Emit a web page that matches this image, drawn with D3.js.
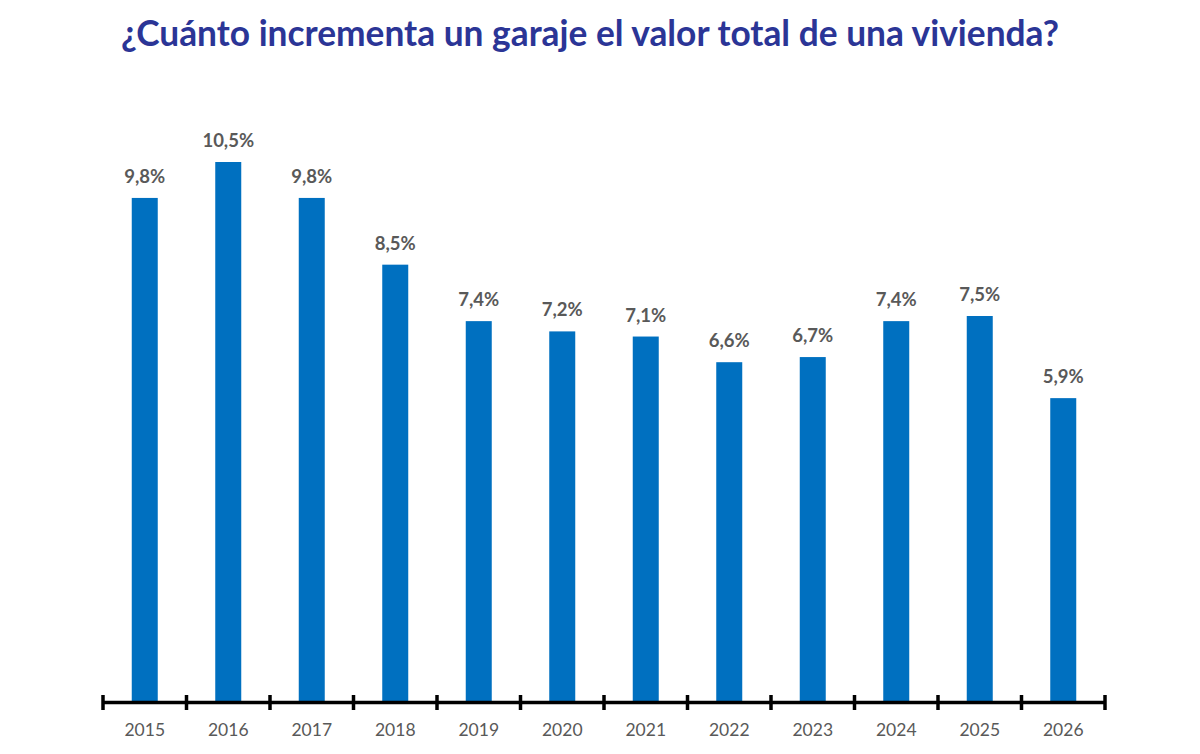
<!DOCTYPE html>
<html><head><meta charset="utf-8">
<script src="https://cdn.jsdelivr.net/npm/d3@7"></script>
<style>body{margin:0;background:#fff}svg{display:block}</style>
</head><body>
<svg id="c" width="1200" height="754"></svg>
<script>
const title = "¿Cuánto incrementa un garaje el valor total de una vivienda?";
const years = ["2015","2016","2017","2018","2019","2020","2021","2022","2023","2024","2025","2026"];
const values = [9.8,10.5,9.8,8.5,7.4,7.2,7.1,6.6,6.7,7.4,7.5,5.9];
const valueLabels = ["9,8%","10,5%","9,8%","8,5%","7,4%","7,2%","7,1%","6,6%","6,7%","7,4%","7,5%","5,9%"];

const svg = d3.select("#c");
const xb = d3.scaleBand().domain(years).range([103,1105]);
const y = d3.scaleLinear().domain([0,10.5]).range([701,162]);

const t = svg.append("text").attr("x",590).attr("y",46).attr("text-anchor","middle")
  .attr("font-family","Lato, 'Open Sans', sans-serif").attr("font-weight","bold")
  .attr("font-size",30).attr("fill","#2B3596").text(title);
const w = t.node().getComputedTextLength();
t.attr("font-size", 30*938/w);

svg.selectAll("rect.bar").data(values).join("rect").attr("class","bar")
  .attr("x",(d,i)=>xb(years[i]) + xb.bandwidth()/2 - 13)
  .attr("width",26)
  .attr("y",d=>y(d)).attr("height",d=>y(0)-y(d))
  .attr("fill","#0070C0");

svg.selectAll("text.val").data(values).join("text").attr("class","val")
  .attr("x",(d,i)=>xb(years[i]) + xb.bandwidth()/2)
  .attr("y",d=>y(d)-15)
  .attr("text-anchor","middle").attr("font-family","Lato, 'Open Sans', sans-serif")
  .attr("font-weight","bold").attr("font-size",18.5).attr("fill","#595959")
  .text((d,i)=>valueLabels[i]);

const ax = svg.append("g");
ax.append("line").attr("x1",103).attr("x2",1105).attr("y1",702.5).attr("y2",702.5)
  .attr("stroke","#000").attr("stroke-width",3.5);
const tickPos = years.map(d=>xb(d)).concat([xb(years[years.length-1])+xb.bandwidth()]);
ax.selectAll("line.tk").data(tickPos).join("line").attr("class","tk")
  .attr("x1",d=>d).attr("x2",d=>d).attr("y1",695).attr("y2",710)
  .attr("stroke","#000").attr("stroke-width",3.5);
ax.selectAll("text.yr").data(years).join("text").attr("class","yr")
  .attr("x",d=>xb(d)+xb.bandwidth()/2).attr("y",736)
  .attr("text-anchor","middle").attr("font-family","Lato, 'Open Sans', sans-serif")
  .attr("font-size",17.5).attr("fill","#595959").text(d=>d);
</script>
</body></html>
